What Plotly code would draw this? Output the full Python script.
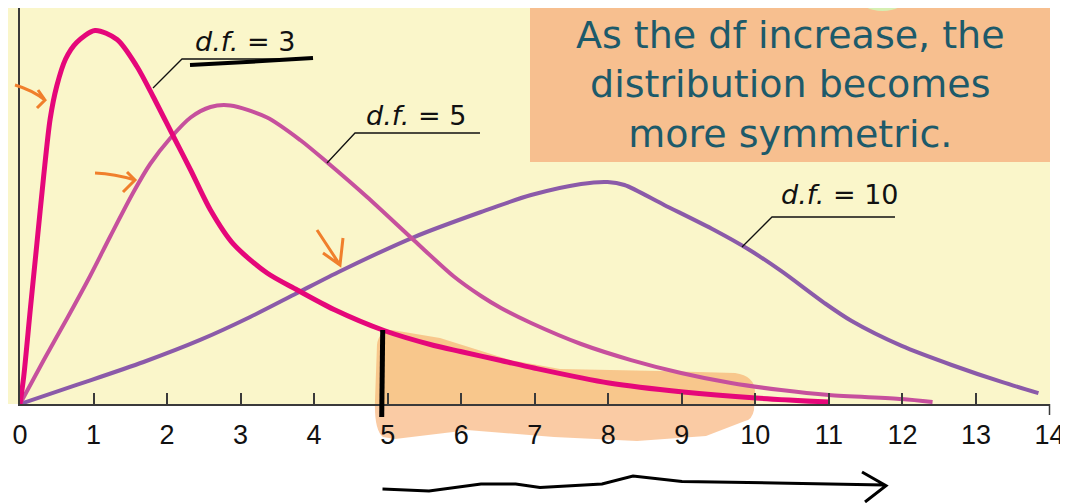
import plotly.graph_objects as go

# chi-square style curves
x_df3 = [0, 0.05, 0.14, 0.23, 0.32, 0.41, 0.5, 0.62, 0.77, 1.02, 1.32, 1.59, 1.81, 2.09, 2.32,
         2.59, 2.9, 3.36, 3.77, 4.27, 4.95, 5.63, 5.99, 6.54, 6.99, 8.01, 9.02, 10.01, 11.0]
y_df3 = [0, 0.018, 0.063, 0.107, 0.151, 0.19, 0.212, 0.23, 0.241, 0.249, 0.243, 0.225, 0.205, 0.178, 0.156,
         0.1293, 0.1067, 0.0873, 0.076, 0.063, 0.049, 0.039, 0.035, 0.029, 0.024, 0.014, 0.008, 0.004, 0.0013]

x_df5 = [0, 0.32, 0.64, 0.95, 1.23, 1.54, 1.77, 2.04, 2.32, 2.59, 2.86, 3.36, 3.81, 4.18,
         4.72, 5.36, 5.9, 6.27, 6.54, 6.95, 7.63, 8.31, 8.99, 9.67, 10.35, 11.0, 11.99, 12.41]
y_df5 = [0, 0.029, 0.057, 0.085, 0.112, 0.141, 0.160, 0.177, 0.191, 0.198, 0.199, 0.191, 0.176, 0.161,
         0.138, 0.109, 0.085, 0.072, 0.064, 0.054, 0.040, 0.0293, 0.0207, 0.014, 0.0093, 0.006, 0.0033, 0.0013]

x_df10 = [0, 0.77, 1.68, 2.45, 3.13, 3.77, 4.36, 5.36, 6.27, 6.95, 7.63, 7.99, 8.22, 8.76,
          9.44, 9.9, 10.35, 10.94, 11.31, 11.99, 12.67, 13.35, 13.85]
y_df10 = [0, 0.0127, 0.028, 0.0427, 0.058, 0.074, 0.0887, 0.1113, 0.128, 0.1393, 0.1467, 0.148, 0.146, 0.1327,
          0.116, 0.1033, 0.0887, 0.0673, 0.0553, 0.0387, 0.026, 0.0147, 0.0073]

tick_vals = list(range(0, 15))
labels = ["<i>d.f.</i> = 3", "<i>d.f.</i> = 5", "<i>d.f.</i> = 10"]
note = "As the df increase, the<br>distribution becomes<br>more symmetric."

C_DF3 = "#e5077a"
C_DF5 = "#c6509d"
C_DF10 = "#8b5aa9"
C_ORANGE = "#f07f2c"
YELLOW = "#faf6ca"
AXIS = "#3a3a3a"

# the page puts the figure 8px in from the top-left corner;
# plot area in page pixels: x 20..1050, y 8..404
def px(x):
    return (x - 20) / 1030

def py(y):
    return (404 - y) / 396

def pt(x, y):
    return f"{px(x):.5f},{py(y):.5f}"

def path(*segs):
    out = []
    for cmd, *xy in segs:
        pts = " ".join(pt(xy[i], xy[i + 1]) for i in range(0, len(xy), 2))
        out.append(f"{cmd}{pts}")
    return " ".join(out)


fig = go.Figure()
for xs, ys, col, w in [(x_df10, y_df10, C_DF10, 4), (x_df5, y_df5, C_DF5, 4), (x_df3, y_df3, C_DF3, 5)]:
    fig.add_trace(go.Scatter(x=xs, y=ys, mode="lines",
                             line=dict(color=col, width=w, shape="spline", smoothing=0.8),
                             hoverinfo="skip"))

shapes = []
# yellow plot background (drawn as a shape so the highlight can sit under the curves)
shapes.append(dict(type="rect", xref="paper", yref="paper", x0=px(8), x1=1, y0=0, y1=1,
                   fillcolor=YELLOW, line_width=0, layer="below"))
# hand drawn highlight, under the curves
shapes.append(dict(type="path", xref="paper", yref="paper", layer="below",
                   path=path(("M", 377, 345), ("Q", 378, 332, 392, 330), ("L", 440, 338),
                             ("L", 510, 360), ("L", 560, 369), ("L", 660, 371), ("L", 735, 373),
                             ("Q", 755, 376, 755, 392), ("L", 754, 410), ("Q", 752, 420, 745, 421),
                             ("L", 706, 436), ("L", 637, 441), ("L", 554, 437), ("L", 467, 430),
                             ("L", 453, 432), ("L", 395, 439), ("L", 383, 437),
                             ("Q", 374, 430, 375, 400), ("Z",)),
                   fillcolor="rgb(245,160,90)", opacity=0.55, line_width=0))
# tick 14 crossing below the axis
shapes.append(dict(type="line", xref="paper", yref="paper", x0=px(1049.5), x1=px(1049.5),
                   y0=py(404), y1=py(415), line=dict(color=AXIS, width=1.5)))

# leader lines
for a, b, c in [((153, 88), (182, 59), (313, 59)),
                ((327, 163), (355, 133), (480, 133)),
                ((742, 247), (772, 217), (895, 217))]:
    shapes.append(dict(type="path", xref="paper", yref="paper",
                       path=path(("M", *a), ("L", *b), ("L", *c)),
                       line=dict(color="#111", width=1.3)))

# info box
shapes.append(dict(type="rect", xref="paper", yref="paper", x0=px(530), x1=px(1050),
                   y0=py(162), y1=1.0, fillcolor="#f7bf8f", line_width=0))
shapes.append(dict(type="circle", xref="paper", yref="paper", x0=px(857), x1=px(908),
                   y0=py(11), y1=py(-20), fillcolor="#d6efb2", line_width=0))

shapes.append(dict(type="path", xref="paper", yref="paper",
                   path=path(("M", 382.7, 330), ("L", 381.7, 417)),
                   line=dict(color="black", width=5)))
shapes.append(dict(type="path", xref="paper", yref="paper",
                   path=path(("M", 190, 65), ("Q", 250, 62, 313, 58)),
                   line=dict(color="black", width=4)))

# orange arrows
for p in [path(("M", 15, 85), ("Q", 32, 90, 45, 100), ("M", 38, 90), ("L", 45, 100), ("L", 37, 108)),
          path(("M", 95, 173), ("Q", 115, 174, 135, 180), ("M", 127, 172), ("L", 135, 180), ("L", 123, 192)),
          path(("M", 317, 230), ("L", 340, 265), ("M", 323, 253), ("L", 340, 265), ("L", 343, 238))]:
    shapes.append(dict(type="path", xref="paper", yref="paper", path=p,
                       line=dict(color=C_ORANGE, width=3)))

# black arrow under the axis
shapes.append(dict(type="path", xref="paper", yref="paper",
                   path=path(("M", 382.5, 489), ("L", 429, 491), ("L", 481, 484), ("L", 515.7, 484),
                             ("L", 540, 487.5), ("L", 602, 484), ("L", 633, 476), ("L", 682, 481.6),
                             ("L", 775, 483), ("L", 884, 485),
                             ("M", 862, 472), ("L", 886, 485.7), ("L", 865, 502)),
                   line=dict(color="black", width=3)))

annotations = []
for txt, cx, cy in zip(labels, [244.5, 415.5, 840], [41.5, 116, 194]):
    annotations.append(dict(text=txt, x=px(cx), y=py(cy), xref="paper", yref="paper",
                            showarrow=False, xanchor="center", yanchor="middle",
                            font=dict(family="DejaVu Sans", size=27, color="#111")))
annotations.append(dict(text=note, x=px(790), y=py(84), xref="paper", yref="paper",
                        showarrow=False, xanchor="center", yanchor="middle", align="center",
                        font=dict(family="DejaVu Sans", size=38, color="#1d5a6a")))

fig.update_layout(
    width=1060, height=495,
    margin=dict(l=12, r=18, t=0, b=99),
    paper_bgcolor="white",
    plot_bgcolor="rgba(0,0,0,0)",
    showlegend=False,
    shapes=shapes,
    annotations=annotations,
    xaxis=dict(range=[0, 14.007], tickvals=tick_vals, ticks="inside", ticklen=11,
               tickwidth=1.5, tickcolor=AXIS, showline=True, linecolor=AXIS, linewidth=1.5,
               showgrid=False, zeroline=False, ticklabelstandoff=6, ticklabeloverflow="allow",
               tickfont=dict(family="Liberation Sans", size=27, color="#111")),
    yaxis=dict(range=[0, 0.264], showticklabels=False, ticks="", showline=True,
               linecolor=AXIS, linewidth=1.5, showgrid=False, zeroline=False),
)

fig.write_html("out.html")
